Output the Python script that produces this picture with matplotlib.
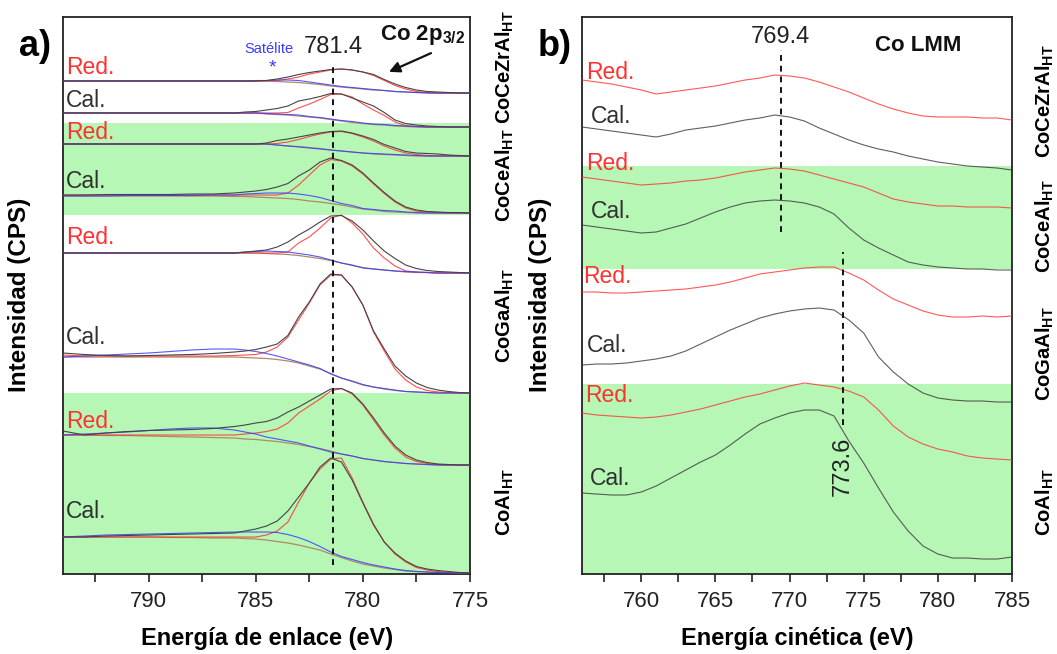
import matplotlib
matplotlib.use("Agg")
import numpy as np
import matplotlib.pyplot as plt

plt.rcParams['font.family'] = ['Liberation Sans', 'DejaVu Sans']
plt.rcParams['mathtext.fontset'] = 'custom'
plt.rcParams['mathtext.rm'] = 'Liberation Sans'
plt.rcParams['mathtext.bf'] = 'Liberation Sans:bold'

GREEN = '#b6f7b6'

# ---------------- Co 2p3/2 (binding energy), stacked, arbitrary units ----------------
e_bind = [794, 793, 792, 791, 790, 789, 788, 787, 786, 785.5, 785, 784.5, 784, 783.5,
          783, 782.5, 782, 781.5, 781, 780.5, 780, 779.5, 779, 778.5, 778, 777.5, 777,
          776.5, 776, 775.5, 775]

# order (top -> bottom): CoCeZrAl red, cal; CoCeAl red, cal; CoGaAl red, cal; CoAl red, cal
offsets_2p = [481, 447, 418, 361, 301, 181, 109, 1]
states_2p = ['Red.', 'Cal.', 'Red.', 'Cal.', 'Red.', 'Cal.', 'Red.', 'Cal.']
label_y_2p = [507, 474, 442, 393, 337, 237, 153, 63]

# measured spectra
data_2p = [
    [12, 12, 12, 12, 12, 12, 12, 12, 12, 12, 12, 12.5, 14, 16, 18.5, 20.5, 22, 23.5, 24, 23,
     21, 18.5, 13.5, 9, 5.5, 3, 1.5, 1, 0.5, 0, 0],
    [14, 14, 14, 14, 14, 14, 14, 14, 14, 15, 15.5, 17, 18.5, 21, 26, 28, 30.5, 33.5, 33, 29,
     25, 21, 14.5, 7, 3.5, 2, 1, 0.5, 0, 0, 0],
    [12, 12, 12, 12, 12, 12, 12, 12, 12, 12, 12, 13, 15.5, 17, 19, 21, 23, 24.5, 25, 23,
     20, 16.5, 11.5, 8, 4.5, 3, 2.5, 2, 1, 0.5, 0],
    [18, 18, 18.5, 18.5, 18.5, 18.5, 19, 19, 20, 21, 22, 23.5, 26, 29.5, 37, 43, 51, 55, 52.5,
     48, 40, 30, 20.5, 12, 6, 3, 1.5, 1, 0.5, 0.5, 0],
    [20, 20, 20, 20, 20, 20, 20, 20, 20, 21, 22, 23, 26, 31, 38, 44, 51, 57, 57.5, 52,
     43, 32, 22, 14.5, 8, 4.5, 2.5, 1.5, 1, 0.5, 0],
    [40, 38.5, 37.5, 37, 37.5, 38, 38.5, 39.5, 41, 42, 43.5, 46, 49, 57.5, 76, 91, 109, 119,
     118, 106, 88, 62, 44, 27, 17, 10, 5.5, 3, 1.5, 0.5, 0],
    [34, 30, 32, 33.5, 34.5, 35, 35.5, 36.5, 38.5, 40, 42, 43.5, 47, 53, 58, 64, 70, 76,
     76.5, 72, 61, 47, 32, 19, 10, 5, 2.5, 1, 0.5, 0, 0],
    [36, 36, 37, 37.5, 38, 38.5, 39, 39.5, 40, 42, 44, 47, 52, 62, 76, 90, 106, 115, 111,
     93, 70, 48, 31, 20, 12, 6.5, 4, 2.5, 1.5, 0.5, 0],
]

# fitted Co main component (+ background)
main_2p = [
    [12, 12, 12, 12, 12, 12, 12, 12, 12, 12, 12, 12, 12.5, 14, 16, 19, 21, 23, 24, 23,
     21, 17.5, 12.5, 7.5, 4, 1.5, 0.5, 0, 0, 0, 0],
    [14, 14, 14, 14, 14, 14, 14, 14, 14, 14, 14, 14, 14, 14.5, 19, 23, 27.5, 32.5, 33, 30,
     23, 17, 11.5, 5, 1.5, 0.5, 0, 0, 0, 0, 0],
    [12, 12, 12, 12, 12, 12, 12, 12, 12, 12, 12, 12, 12.5, 14, 16.5, 19.5, 22, 24, 24.5, 22.5,
     19, 15, 10, 6, 3, 1.5, 0.5, 0, 0, 0, 0],
    [18, 18, 18, 18, 18, 18, 18, 18, 18, 18, 18, 18, 18, 20, 28, 38, 48, 53.5, 52, 47,
     39, 29, 19.5, 11, 5, 2, 1, 0.5, 0, 0, 0],
    [20, 20, 20, 20, 20, 20, 20, 20, 20, 20, 20, 20, 20, 21, 30, 36, 45, 55, 58, 50,
     39, 25, 15, 7, 2, 1, 0.5, 0, 0, 0, 0],
    [38, 37, 37, 37, 37, 37, 37, 37, 37.5, 38, 38.5, 41, 46, 56, 73, 90, 108, 118, 118, 106,
     88, 61, 42, 24, 13, 6, 2.5, 1, 0.5, 0, 0],
    [30, 30, 30, 30, 30, 30, 30, 30, 30, 31, 32, 33.5, 36, 42, 52, 59, 66, 74, 76.5, 71,
     60, 45, 30, 17, 8, 3.5, 1.5, 0.5, 0, 0, 0],
    [36, 36, 36, 36, 36, 36, 36, 36, 36, 36, 36, 38, 42, 51, 71, 90, 104, 114, 115, 95,
     71, 49, 31, 19, 11, 5.5, 3, 1.5, 0.5, 0, 0],
]

# fitted shake-up satellite (+ background)
sat_2p = [
    [12, 12, 12, 12, 12, 12, 12, 12, 12, 12, 12.5, 12.5, 13, 13, 12.5, 11, 9.5, 8, 6.5, 5.5,
     4.5, 3.5, 2.5, 1.5, 1, 0.5, 0, 0, 0, 0, 0],
    [14, 14, 14, 14, 14, 14, 14, 14, 14, 14, 14, 13.5, 13, 12.5, 12, 10.5, 9.5, 8, 6.5, 5.5,
     4, 3, 2.5, 1.5, 1, 0.5, 0, 0, 0, 0, 0],
    [12, 12, 12, 12, 12, 12, 12, 12, 12, 12, 12, 12, 11, 10, 9, 8, 7, 6, 5, 4,
     3, 2.5, 2, 1.5, 1, 0.5, 0, 0, 0, 0, 0],
    [17, 17, 17, 17.5, 17.5, 17.5, 17.5, 18, 18, 19, 19.5, 20, 20, 20, 19, 17.5, 15.5, 12.5,
     9.5, 7.5, 4.5, 3.5, 2.5, 2, 1, 0.5, 0, 0, 0, 0, 0],
    [20, 20, 20, 20, 20, 20, 20, 20, 20, 21, 21.5, 22, 21.5, 21, 19.5, 18, 16, 13, 10, 8,
     5, 4, 3, 2, 1.5, 1, 0.5, 0, 0, 0, 0],
    [36, 37, 38, 39, 40, 41.5, 43, 44, 44, 43, 41.5, 39.5, 37, 34, 31, 28, 24.5, 19, 15, 12,
     8.5, 6, 4.5, 3, 1.5, 1, 0.5, 0, 0, 0, 0],
    [30, 31, 32, 33, 34.5, 36, 37, 37, 35, 33, 31, 28, 26, 24, 22, 19, 16, 13, 11, 9,
     6.5, 5, 3.5, 2.5, 1.5, 1, 0.5, 0, 0, 0, 0],
    [36, 37, 38, 38.5, 39, 39.5, 40, 40.5, 41, 41, 41, 41, 40.5, 38.5, 35.5, 31.5, 26.5, 21,
     16.5, 13.5, 10.5, 8, 6, 4, 2.5, 1.5, 1, 0.5, 0, 0, 0],
]

# Shirley background
bg_2p = [
    [12, 12, 12, 12, 12, 12, 12, 12, 12, 12, 12, 12, 11.5, 11, 10.5, 9.5, 8.5, 7, 6, 5,
     4, 3, 2.5, 1.5, 1, 0.5, 0.3, 0, 0, 0, 0],
    [14, 14, 14, 14, 14, 14, 14, 14, 14, 14, 14, 13, 12.5, 12, 11, 10, 9, 7.5, 6, 4.5,
     3.5, 2.5, 2, 1, 0.5, 0, 0, 0, 0, 0, 0],
    [12, 12, 12, 12, 12, 12, 12, 12, 12, 12, 12, 12, 11, 10, 9.5, 8.5, 7.5, 6, 5, 4,
     3, 2, 1.5, 1, 0.5, 0, 0, 0, 0, 0, 0],
    [17, 17, 17, 17, 17, 17, 17, 17, 16.5, 16.5, 16, 15.5, 15, 14.5, 13.5, 12, 11, 9.5, 8, 6,
     4, 3, 1.5, 1, 0.5, 0, 0, 0, 0, 0, 0],
    [20, 20, 20, 20, 20, 20, 20, 20, 20, 20, 20, 19.5, 19, 18.5, 17.5, 16, 14.5, 12.5, 10,
     7.5, 5.5, 4, 3, 2, 1, 0.5, 0.5, 0, 0, 0, 0],
    [36, 36, 36, 36, 36, 36, 36, 36, 36, 35.5, 35, 34.5, 33.5, 32, 30, 27, 24, 19.5, 15,
     11.5, 8, 6, 4, 2.5, 1.5, 1, 0.5, 0, 0, 0, 0],
    [30, 30, 29.5, 29.5, 29, 28.5, 28, 27.5, 27, 26, 25.5, 24.5, 23.5, 22, 20.5, 18.5, 16.5,
     14, 11, 9, 6.5, 5, 3.5, 2.5, 1.5, 1, 0.5, 0, 0, 0, 0],
    [36, 36, 36, 36, 36, 35.5, 35.5, 35, 35, 34.5, 34, 33, 31.5, 30, 28, 25.5, 23, 19, 15.5,
     12, 9, 7, 5, 3.5, 2, 1.5, 1, 0.5, 0.3, 0, 0],
]
bands_2p = [(359, 451), (0, 181)]

# ---------------- Co LMM (kinetic energy) ----------------
e_kin = list(range(756, 786))
offsets_lmm = [454, 404, 366, 304, 257, 172, 114, 16]
label_y_lmm = [502, 458, 411, 363, 298, 229, 179, 96]
label_x_lmm = [756.3, 756.6, 756.3, 756.6, 756.1, 756.35, 756.2, 756.5]
data_lmm = [
    [40, 38, 36, 33, 30, 26, 28, 30, 32, 34, 37, 40, 42, 45, 44, 42, 38, 33, 28, 22,
     16, 11, 7, 4, 3, 3, 3, 2, 2, 0],
    [43, 41, 39, 37, 35, 33, 36, 40, 42, 44, 47, 50, 52, 55, 53, 49, 42, 36, 30, 25,
     21, 18, 14, 11, 8, 6, 4, 3, 2, 0],
    [31, 29, 27, 25, 23, 24, 25, 27, 28, 30, 33, 36, 38, 40, 39, 37, 33, 29, 25, 21,
     15, 9, 6, 4, 2, 2, 1, 1, 1, 0],
    [45, 43, 41, 39, 37, 38, 42, 46, 52, 58, 63, 67, 69, 70, 69, 67, 63, 56, 42, 30,
     22, 15, 8, 5, 3, 2, 1, 1, 0, 0],
    [25, 25, 24, 24, 25, 26, 27, 28, 30, 32, 35, 39, 43, 45, 47, 49, 50, 50, 44, 37,
     27, 18, 12, 6, 2, 0, 0, 1, 0, 1],
    [37, 38, 38, 39, 41, 43, 46, 51, 58, 65, 72, 78, 84, 88, 91, 93, 94, 92, 82, 69,
     45, 30, 18, 9, 4, 2, 1, 1, 0, 0],
    [47, 45, 44, 43, 42, 43, 45, 48, 51, 55, 59, 63, 66, 70, 74, 77, 75, 73, 69, 63,
     50, 34, 23, 16, 11, 8, 4, 2, 1, 0],
    [65, 64, 63, 63, 66, 72, 80, 88, 96, 103, 113, 124, 134, 140, 145, 148, 148, 142, 117,
     95, 70, 46, 27, 12, 4, 0, 0, -1, -1, 1],
]
bands_lmm = [(305, 408), (0, 190)]

samples = ['CoCeZrAl', 'CoCeAl', 'CoGaAl', 'CoAl']
sample_y_a = [67, 175, 316, 502]
sample_y_b = [101, 226, 354, 502]

RED = '#ff3030'
BLK = '#303030'

fig = plt.figure(figsize=(10.57, 6.54), dpi=100)
ax_a = fig.add_axes([0.0596, 0.1223, 0.385, 0.8517])
ax_b = fig.add_axes([0.5506, 0.1223, 0.4068, 0.8517])

for ax in (ax_a, ax_b):
    ax.set_ylim(0, 557)
    ax.set_yticks([])
    for sp in ax.spines.values():
        sp.set_linewidth(1.3)
        sp.set_color('#222222')
    ax.tick_params(axis='x', which='both', direction='out', length=6, width=1.2,
                   labelsize=16, pad=6, colors='#222222')

# panel a
ax_a.set_xlim(794, 775)
ax_a.set_xticks([790, 785, 780, 775])
ax_a.set_xticks([792.5, 787.5, 782.5, 777.5], minor=True)
for lo, hi in bands_2p:
    ax_a.axhspan(lo, hi, color=GREEN, lw=0, zorder=0)
for i in range(8):
    off = offsets_2p[i]
    ax_a.plot(e_bind, np.array(bg_2p[i]) + off, color='#b08868', lw=0.9, zorder=2)
    ax_a.plot(e_bind, np.array(main_2p[i]) + off, color=RED, lw=0.8, alpha=0.85, zorder=3)
    ax_a.plot(e_bind, np.array(sat_2p[i]) + off, color='#3a3aff', lw=0.8, alpha=0.85, zorder=3)
    ax_a.plot(e_bind, np.array(data_2p[i]) + off, color='#444444', lw=0.8, zorder=4)
    col = RED if states_2p[i] == 'Red.' else BLK
    ax_a.text(793.85, label_y_2p[i], states_2p[i], color=col, fontsize=16.5,
              ha='left', va='center', zorder=5)

ax_a.vlines(781.4, 9, 509, colors='#111111', linestyles=(0, (3, 2.5)), lw=1.4, zorder=5)
ax_a.text(781.4, 527, '781.4', fontsize=17, ha='center', va='center', color='#222222')
ax_a.text(784.4, 525, 'Satélite', fontsize=10.5, ha='center', va='center', color='#3a3aff')
ax_a.text(784.2, 506, '*', fontsize=14, ha='center', va='center', color='#3a3aff')
ax_a.text(777.2, 539, r'Co 2p$_{\mathbf{3/2}}$', fontsize=16, fontweight='bold',
          ha='center', va='center', color='#111111')
ax_a.annotate('', xy=(778.9, 501), xytext=(776.7, 522),
              arrowprops=dict(arrowstyle='-|>', color='#111111', lw=1.6, mutation_scale=16))

# panel b
ax_b.set_xlim(756, 785)
ax_b.set_xticks([760, 765, 770, 775, 780, 785])
ax_b.set_xticks([757.5, 762.5, 767.5, 772.5, 777.5, 782.5], minor=True)
for lo, hi in bands_lmm:
    ax_b.axhspan(lo, hi, color=GREEN, lw=0, zorder=0)
for i in range(8):
    off = offsets_lmm[i]
    red = states_2p[i] == 'Red.'
    ax_b.plot(e_kin, np.array(data_lmm[i]) + off, color=RED if red else '#383838',
              lw=0.8, alpha=0.8, zorder=3)
    ax_b.text(label_x_lmm[i], label_y_lmm[i], states_2p[i], color=RED if red else BLK,
              fontsize=16.5, ha='left', va='center', zorder=5)

ax_b.vlines(769.4, 342, 524, colors='#111111', linestyles=(0, (3, 2.5)), lw=1.4, zorder=5)
ax_b.vlines(773.6, 149, 322, colors='#111111', linestyles=(0, (3, 2.5)), lw=1.4, zorder=5)
ax_b.text(769.4, 537, '769.4', fontsize=17, ha='center', va='center', color='#222222')
ax_b.text(773.6, 108, '773.6', fontsize=17, rotation=90, ha='center', va='center',
          color='#222222')
ax_b.text(778.7, 529, 'Co LMM', fontsize=16, fontweight='bold', ha='center', va='center',
          color='#111111')

# figure-level labels
W, H = 1057.0, 654.0
fig.text(35 / W, 1 - 46 / H, 'a)', fontsize=26, fontweight='bold', ha='center', va='center')
fig.text(555 / W, 1 - 46 / H, 'b)', fontsize=26, fontweight='bold', ha='center', va='center')
for x in (20, 541):
    fig.text(x / W, 1 - 295 / H, 'Intensidad (CPS)', fontsize=17.5, fontweight='bold',
             rotation=90, ha='center', va='center')
fig.text(267 / W, 1 - 638 / H, 'Energía de enlace (eV)', fontsize=17, fontweight='bold',
         ha='center', va='center')
fig.text(797 / W, 1 - 638 / H, 'Energía cinética (eV)', fontsize=17, fontweight='bold',
         ha='center', va='center')
for name, ya, yb in zip(samples, sample_y_a, sample_y_b):
    lab = name + r'$_{\mathbf{HT}}$'
    fig.text(505 / W, 1 - ya / H, lab, fontsize=14.5, fontweight='bold', rotation=90,
             ha='center', va='center')
    fig.text(1045 / W, 1 - yb / H, lab, fontsize=14.5, fontweight='bold', rotation=90,
             ha='center', va='center')

fig.savefig('out.png', dpi=100)
